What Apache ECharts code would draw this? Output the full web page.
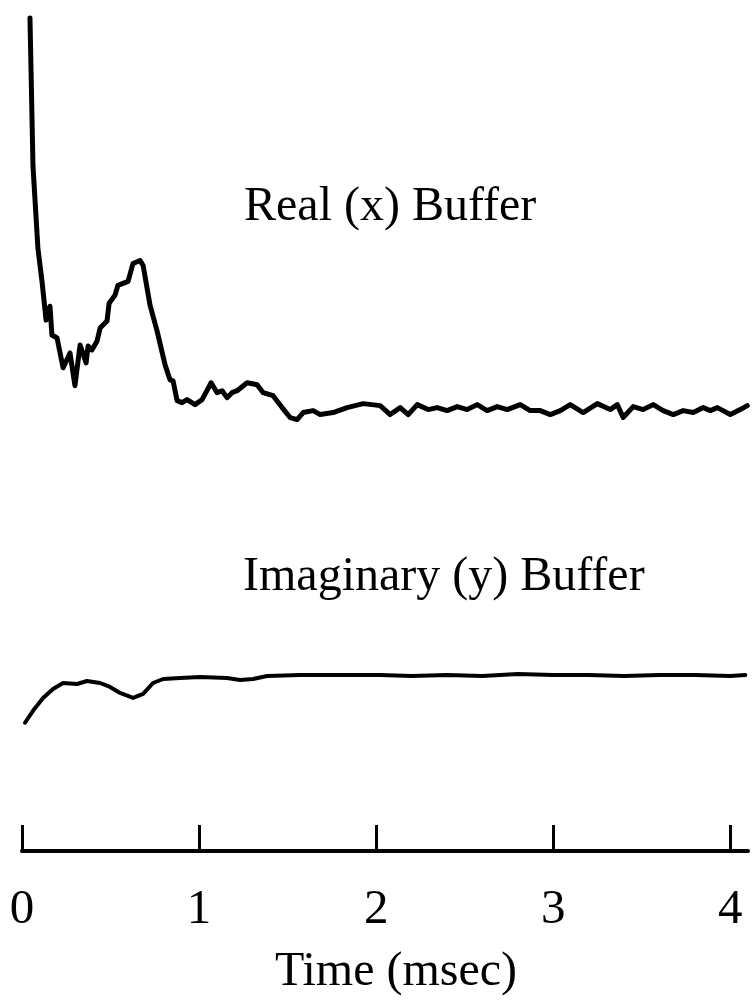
<!DOCTYPE html>
<html>
<head>
    <meta charset="utf-8">
    <script src="https://cdn.jsdelivr.net/npm/echarts@6/dist/echarts.min.js"></script>
    <style>
        html, body { margin: 0; padding: 0; background: #fff; }
    </style>
</head>
<body>
    <div id="main" style="width:754px;height:1001px"></div>
    <script type="text/javascript">
        // time in msec, signal in arbitrary units
        var realTime = [0.045, 0.062, 0.090, 0.113, 0.136, 0.158, 0.169, 0.198, 0.232, 0.271,
            0.299, 0.328, 0.362, 0.373, 0.395, 0.424, 0.441, 0.480, 0.492, 0.525,
            0.542, 0.599, 0.627, 0.667, 0.684, 0.723, 0.763, 0.808, 0.836, 0.853,
            0.876, 0.904, 0.932, 0.977, 1.017, 1.068, 1.102, 1.130, 1.158, 1.186,
            1.215, 1.271, 1.328, 1.362, 1.418, 1.469, 1.514, 1.554, 1.588, 1.644,
            1.684, 1.757, 1.836, 1.927, 2.023, 2.079, 2.136, 2.181, 2.232, 2.294,
            2.345, 2.401, 2.458, 2.514, 2.571, 2.627, 2.684, 2.740, 2.814, 2.870,
            2.927, 2.983, 3.040, 3.096, 3.169, 3.249, 3.322, 3.362, 3.395, 3.452,
            3.508, 3.565, 3.621, 3.678, 3.734, 3.791, 3.847, 3.887, 3.927, 4.000,
            4.056, 4.096];
        var realBuffer = [8.38, 6.89, 6.06, 5.73, 5.34, 5.48, 5.19, 5.16, 4.86, 5.01,
            4.68, 5.09, 4.91, 5.08, 5.04, 5.13, 5.26, 5.33, 5.51, 5.59,
            5.69, 5.73, 5.91, 5.94, 5.89, 5.49, 5.23, 4.89, 4.74, 4.73,
            4.53, 4.51, 4.54, 4.49, 4.54, 4.71, 4.61, 4.63, 4.56, 4.61,
            4.63, 4.71, 4.69, 4.61, 4.58, 4.46, 4.36, 4.34, 4.41, 4.43,
            4.39, 4.41, 4.46, 4.50, 4.48, 4.39, 4.46, 4.39, 4.49, 4.44,
            4.46, 4.43, 4.47, 4.44, 4.49, 4.43, 4.47, 4.44, 4.49, 4.43,
            4.43, 4.39, 4.43, 4.49, 4.41, 4.50, 4.44, 4.49, 4.36, 4.47,
            4.44, 4.49, 4.43, 4.39, 4.43, 4.41, 4.46, 4.43, 4.46, 4.39,
            4.44, 4.48];

        var imagTime = [0.017, 0.062, 0.119, 0.175, 0.232, 0.311, 0.367, 0.441, 0.497, 0.554,
            0.627, 0.684, 0.740, 0.797, 0.893, 1.006, 1.158, 1.232, 1.305, 1.384,
            1.571, 1.757, 2.023, 2.2, 2.4, 2.6, 2.8, 3.0, 3.2, 3.4,
            3.6, 3.8, 4.0, 4.085];
        var imagBuffer = [1.29, 1.41, 1.54, 1.63, 1.69, 1.68, 1.71, 1.69, 1.65, 1.59,
            1.54, 1.58, 1.69, 1.73, 1.74, 1.75, 1.74, 1.72, 1.73, 1.76,
            1.77, 1.77, 1.77, 1.76, 1.77, 1.76, 1.78, 1.77, 1.77, 1.76,
            1.77, 1.77, 1.76, 1.77];

        var timeTicks = [0, 1, 2, 3, 4];

        function pairs(xs, ys) {
            var out = [];
            for (var i = 0; i < xs.length; i++) out.push([xs[i], ys[i]]);
            return out;
        }

        var serif = 'Liberation Serif';
        var myChart = echarts.init(document.getElementById('main'));
        var option = {
            animation: false,
            backgroundColor: '#fff',
            grid: { left: 22, right: 6, top: 0, bottom: 130 },
            xAxis: {
                type: 'value',
                min: 0,
                max: 4.1,
                name: 'Time (msec)',
                nameLocation: 'middle',
                nameGap: 97,
                nameTextStyle: { fontFamily: serif, fontSize: 48, color: '#000',
                    padding: [0, 0, 0, 22] },
                axisLine: { onZero: false, lineStyle: { color: '#000', width: 4 } },
                axisTick: { inside: true, length: 26, customValues: timeTicks,
                    lineStyle: { color: '#000', width: 3 } },
                axisLabel: { customValues: timeTicks, margin: 35, color: '#000',
                    fontFamily: serif, fontSize: 49 },
                splitLine: { show: false }
            },
            yAxis: {
                type: 'value',
                min: 0,
                max: 8.56,
                show: false
            },
            graphic: [
                { type: 'text', left: 392 - 148, top: 183,
                  style: { text: 'Real (x) Buffer', font: '48px "Liberation Serif"', fill: '#000' } },
                { type: 'text', left: 447 - 204, top: 553,
                  style: { text: 'Imaginary (y) Buffer', font: '48px "Liberation Serif"', fill: '#000' } }
            ],
            series: [
                {
                    name: 'Real (x) Buffer',
                    type: 'line',
                    data: pairs(realTime, realBuffer),
                    showSymbol: false,
                    lineStyle: { color: '#000', width: 5, join: 'round', cap: 'round' }
                },
                {
                    name: 'Imaginary (y) Buffer',
                    type: 'line',
                    data: pairs(imagTime, imagBuffer),
                    showSymbol: false,
                    lineStyle: { color: '#000', width: 4, join: 'round', cap: 'round' }
                }
            ]
        };
        myChart.setOption(option);
    </script>
</body>
</html>
